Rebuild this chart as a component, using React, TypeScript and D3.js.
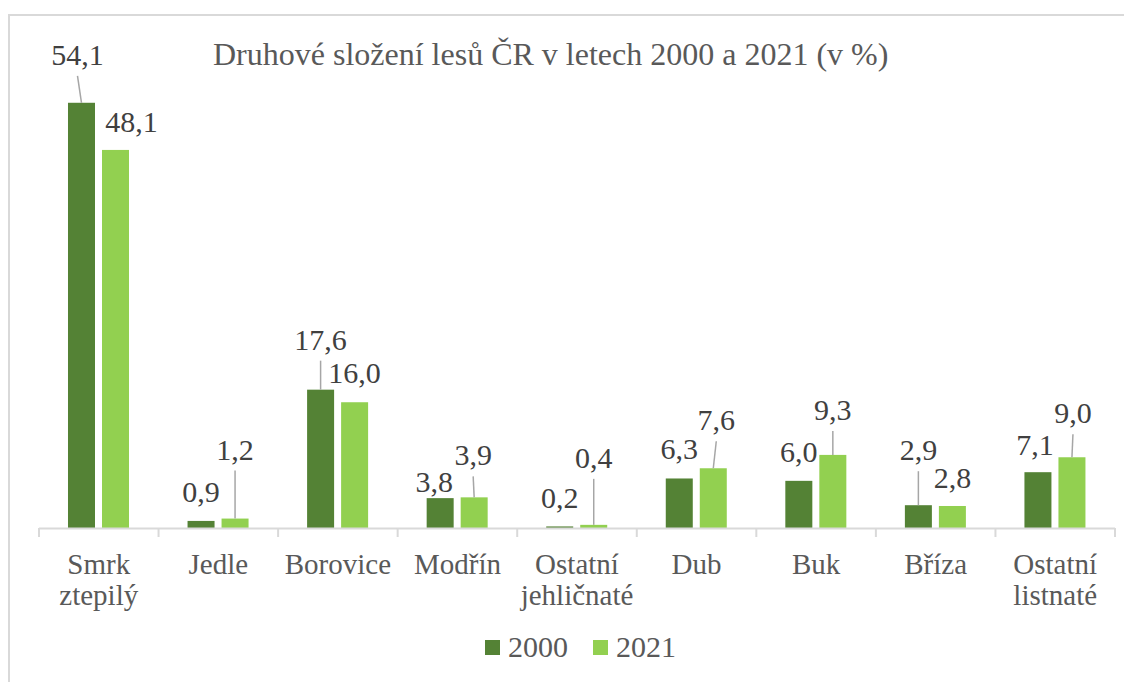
import React from 'react';
import * as d3 from 'd3';

// chart values
const categories = [
  ['Smrk', 'ztepilý'],
  ['Jedle'],
  ['Borovice'],
  ['Modřín'],
  ['Ostatní', 'jehličnaté'],
  ['Dub'],
  ['Buk'],
  ['Bříza'],
  ['Ostatní', 'listnaté'],
];
const seriesNames = ['2000', '2021'];
const values2000 = [54.1, 0.9, 17.6, 3.8, 0.2, 6.3, 6.0, 2.9, 7.1];
const values2021 = [48.1, 1.2, 16.0, 3.9, 0.4, 7.6, 9.3, 2.8, 9.0];
const colors = ['#548235', '#92D050'];

// manual label placement (dx from bar centre, dy of baseline from bar top)
const labelOffsets2000 = [[-4, -38], [0, -19], [0, -40], [-6, -6], [0, -18], [0, -19], [0, -19], [0, -45], [-3, -17]];
const labelOffsets2021 = [[16, -18], [0, -59], [0, -19], [-1, -32], [0, -57], [3, -38], [0, -35], [0, -18], [1, -34]];

const FONT = 'Liberation Serif';
const serif = { fontFamily: FONT };

const App = () => {
  const x0 = d3.scaleBand<number>()
    .domain(d3.range(categories.length))
    .range([39, 1115])
    .padding(0);

  const x1 = d3.scaleBand<number>()
    .domain([0, 1])
    .range([x0.bandwidth() * 0.2425, x0.bandwidth() * 0.7528])
    .paddingInner(0.206)
    .paddingOuter(0);

  const y = d3.scaleLinear().domain([0, 60]).range([528, 56.4]);

  const series = [values2000, values2021];
  const offsets = [labelOffsets2000, labelOffsets2021];
  const fmt = (v: number) => v.toFixed(1).replace('.', ',');

  const ticks = d3.range(categories.length + 1).map(i => 39 + i * x0.step());

  // body keeps its 8px margin, so the drawing is shifted back by 8px
  return (
    <svg width={1124} height={674} style={{ fontFamily: FONT, display: 'block' }}>
      <g transform="translate(-8,-8)">
        <rect x={9} y={15} width={1140} height={690} fill="#fff" stroke="#D9D9D9" strokeWidth={2} />

        <text x={213} y={65} style={serif} fontSize={32} fill="#595959">
          Druhové složení lesů ČR v letech 2000 a 2021 (v %)
        </text>

        {series.map((vals, s) => (
          <g key={s}>
            {vals.map((v, i) => (
              <rect key={i} x={x0(i)! + x1(s)!} y={y(v)} width={x1.bandwidth()} height={y(0) - y(v)} fill={colors[s]} />
            ))}
          </g>
        ))}

        {/* axis */}
        <line x1={39} x2={1115} y1={528.5} y2={528.5} stroke="#D9D9D9" strokeWidth={2} />
        {ticks.map((t, i) => (
          <line key={i} x1={t} x2={t} y1={528} y2={537} stroke="#D9D9D9" strokeWidth={2} />
        ))}

        {categories.map((lines, i) => (
          <text key={i} x={x0(i)! + x0.bandwidth() / 2} y={574} textAnchor="middle"
            style={serif} fontSize={29} fill="#595959">
            {lines.map((l, k) => (
              <tspan key={k} x={x0(i)! + x0.bandwidth() / 2} dy={k === 0 ? 0 : 31}>{l}</tspan>
            ))}
          </text>
        ))}

        {/* data labels with leader lines */}
        {series.map((vals, s) => (
          <g key={s}>
            {vals.map((v, i) => {
              const cx = x0(i)! + x1(s)! + x1.bandwidth() / 2;
              const top = y(v);
              const [dx, dy] = offsets[s][i];
              const lx = cx + dx;
              const ly = top + dy;
              return (
                <g key={i}>
                  {dy < -25 && (
                    <line x1={lx} y1={ly + 11} x2={cx} y2={top} stroke="#A6A6A6" strokeWidth={1.5} />
                  )}
                  <text x={lx} y={ly} textAnchor="middle" style={serif} fontSize={30} fill="#404040">
                    {fmt(v)}
                  </text>
                </g>
              );
            })}
          </g>
        ))}

        {/* legend */}
        {seriesNames.map((name, s) => {
          const lx = [485, 593][s];
          return (
            <g key={name}>
              <rect x={lx} y={640} width={15} height={15} fill={colors[s]} />
              <text x={lx + 23} y={657} style={serif} fontSize={30} fill="#595959">{name}</text>
            </g>
          );
        })}
      </g>
    </svg>
  );
};

export default App;
